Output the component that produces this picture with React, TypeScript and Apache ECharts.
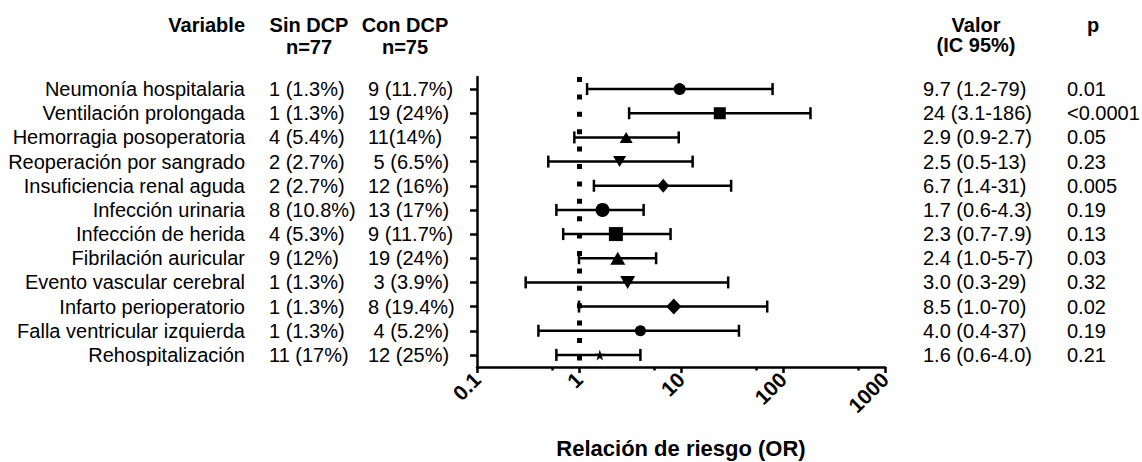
import React, { useEffect, useRef } from "react";
import * as echarts from "echarts";

// ---------- data ----------
const variables = [
  "Neumonía hospitalaria",
  "Ventilación prolongada",
  "Hemorragia posoperatoria",
  "Reoperación por sangrado",
  "Insuficiencia renal aguda",
  "Infección urinaria",
  "Infección de herida",
  "Fibrilación auricular",
  "Evento vascular cerebral",
  "Infarto perioperatorio",
  "Falla ventricular izquierda",
  "Rehospitalización",
];
const sinDCP = [
  "1 (1.3%)", "1 (1.3%)", "4 (5.4%)", "2 (2.7%)", "2 (2.7%)", "8 (10.8%)",
  "4 (5.3%)", "9 (12%)", "1 (1.3%)", "1 (1.3%)", "1 (1.3%)", "11 (17%)",
];
const conDCP = [
  "9 (11.7%)", "19 (24%)", "11(14%)", "\u00A05 (6.5%)", "12 (16%)", "13 (17%)",
  "9 (11.7%)", "19 (24%)", "\u00A03 (3.9%)", "8 (19.4%)", "\u00A04 (5.2%)", "12 (25%)",
];
const orValues = [9.7, 24, 2.9, 2.5, 6.7, 1.7, 2.3, 2.4, 3.0, 8.5, 4.0, 1.6];
const ciLow = [1.2, 3.1, 0.9, 0.5, 1.4, 0.6, 0.7, 1.0, 0.3, 1.0, 0.4, 0.6];
const ciHigh = [79, 186, 9.5, 13, 31, 4.3, 7.9, 5.7, 29, 70, 37, 4.0];
const valorIC = [
  "9.7 (1.2-79)", "24 (3.1-186)", "2.9 (0.9-2.7)", "2.5 (0.5-13)", "6.7 (1.4-31)",
  "1.7 (0.6-4.3)", "2.3 (0.7-7.9)", "2.4 (1.0-5-7)", "3.0 (0.3-29)", "8.5 (1.0-70)",
  "4.0 (0.4-37)", "1.6 (0.6-4.0)",
];
const pValues = [
  "0.01", "<0.0001", "0.05", "0.23", "0.005", "0.19",
  "0.13", "0.03", "0.32", "0.02", "0.19", "0.21",
];
const xMin = 0.1;
const xMax = 1000;
const minorTickValues = [0.55, 5.5, 55, 550];
const referenceOR = 1;

// ---------- styles ----------
const STAR = "path://M50,0 L61,35 L98,35 L68,57 L79,91 L50,70 L21,91 L32,57 L2,35 L39,35 Z";
const markerSymbols = [
  "circle", "rect", "triangle", "triangle", "diamond", "circle",
  "rect", "triangle", "triangle", "diamond", "circle", STAR,
];
const markerRotations = [0, 0, 0, 180, 0, 0, 0, 0, 180, 0, 0, 0];
const markerSizes: any[] = [
  12, 12, [13, 11], [13, 11], [12, 14], 14,
  14, [15, 13], [15, 13], [15, 16], 11, 11,
];

const FONT = '"Liberation Sans", Arial, Helvetica, sans-serif';
const BLACK = "#000";

function colAxis(position: string, texts: string[], margin: number, align: string) {
  return {
    type: "category",
    data: variables,
    inverse: true,
    position,
    offset: 0,
    axisLine: { show: false, onZero: false },
    axisTick: { show: false },
    splitLine: { show: false },
    axisLabel: {
      interval: 0,
      hideOverlap: false,
      margin,
      align,
      fontSize: 20,
      fontFamily: FONT,
      color: BLACK,
      formatter: (_v: string, i: number) => texts[i],
    },
  };
}

export default function App() {
  const ref = useRef<HTMLDivElement>(null);
  useEffect(() => {
    document.body.style.margin = "0";
    const chart = echarts.init(ref.current!, null, { renderer: "svg" });
    const headerStyle = (text: string, align = "center") => ({
      text,
      fontSize: 20,
      fontWeight: "bold",
      fontFamily: FONT,
      fill: BLACK,
      align,
      verticalAlign: "middle",
    });
    const option: any = {
      animation: false,
      backgroundColor: "#fff",
      grid: { left: 477, right: 257, top: 77, bottom: 95, containLabel: false, outerBoundsMode: "none" },
      xAxis: {
        type: "log",
        logBase: 10,
        min: xMin,
        max: xMax,
        splitNumber: 4,
        axisLine: { show: true, onZero: false, lineStyle: { color: BLACK, width: 2.5 } },
        axisTick: { show: true, length: 6, lineStyle: { color: BLACK, width: 2.5 } },
        splitLine: { show: false },
        axisLabel: {
          rotate: 45,
          margin: 9,
          fontSize: 21,
          fontWeight: "bold",
          fontFamily: FONT,
          color: BLACK,
          formatter: (v: number) => String(v),
        },
        name: "Relación de riesgo (OR)",
        nameLocation: "middle",
        nameGap: 70,
        nameTextStyle: { fontSize: 22, fontWeight: "bold", fontFamily: FONT, color: BLACK },
      },
      yAxis: [
        {
          type: "category",
          data: variables,
          inverse: true,
          position: "left",
          axisLine: { show: true, onZero: false, lineStyle: { color: BLACK, width: 2.5 } },
          axisTick: { show: true, alignWithLabel: true, length: 7, lineStyle: { color: BLACK, width: 2.5 } },
          splitLine: { show: false },
          axisLabel: {
            interval: 0,
            hideOverlap: false,
            margin: 232,
            fontSize: 20,
            fontFamily: FONT,
            color: BLACK,
          },
        },
        colAxis("left", sinDCP, 208, "left"),
        colAxis("left", conDCP, 109, "left"),
        colAxis("right", valorIC, 38, "left"),
        colAxis("right", pValues, 182, "left"),
      ],
      graphic: [
        { type: "text", x: 245, y: 25, style: headerStyle("Variable", "right") },
        { type: "text", x: 309, y: 25, style: headerStyle("Sin DCP") },
        { type: "text", x: 309, y: 47, style: headerStyle("n=77") },
        { type: "text", x: 405, y: 25, style: headerStyle("Con DCP") },
        { type: "text", x: 405, y: 47, style: headerStyle("n=75") },
        { type: "text", x: 976, y: 25, style: headerStyle("Valor") },
        { type: "text", x: 976, y: 45, style: headerStyle("(IC 95%)") },
        { type: "text", x: 1093, y: 25, style: headerStyle("p") },
      ],
      series: [
        {
          type: "custom",
          name: "IC",
          z: 3,
          encode: { x: [1, 2], y: 0 },
          data: variables.map((_, i) => [i, ciLow[i], ciHigh[i]]),
          renderItem: (_params: any, api: any) => {
            const row = api.value(0);
            const lo = api.coord([api.value(1), row]);
            const hi = api.coord([api.value(2), row]);
            const h = 6;
            const style = { stroke: BLACK, lineWidth: 2.5 };
            return {
              type: "group",
              children: [
                { type: "line", shape: { x1: lo[0], y1: lo[1], x2: hi[0], y2: hi[1] }, style },
                { type: "line", shape: { x1: lo[0], y1: lo[1] - h, x2: lo[0], y2: lo[1] + h }, style },
                { type: "line", shape: { x1: hi[0], y1: hi[1] - h, x2: hi[0], y2: hi[1] + h }, style },
              ],
            };
          },
        },
        {
          type: "custom",
          name: "minorTicks",
          z: 3,
          clip: false,
          encode: { x: 0, y: 1 },
          data: minorTickValues.map((v) => [v, 0]),
          renderItem: (params: any, api: any) => {
            const p = api.coord([api.value(0), 0]);
            const cs = params.coordSys;
            const bottom = cs.y + cs.height;
            return {
              type: "line",
              shape: { x1: p[0], y1: bottom, x2: p[0], y2: bottom + 3.5 },
              style: { stroke: BLACK, lineWidth: 2.5 },
            };
          },
        },
        {
          type: "scatter",
          name: "OR",
          z: 4,
          data: orValues.map((v, i) => ({
            value: [v, i],
            symbol: markerSymbols[i],
            symbolSize: markerSizes[i],
            symbolRotate: markerRotations[i],
          })),
          itemStyle: { color: BLACK, opacity: 1 },
          markLine: {
            silent: true,
            symbol: "none",
            label: { show: false },
            lineStyle: { color: BLACK, width: 5, type: [5, 12.4], cap: "butt" },
            data: [{ xAxis: referenceOR }],
          },
        },
      ],
    };
    chart.setOption(option);
    return () => chart.dispose();
  }, []);
  return (
    <div
      ref={ref}
      style={{ width: 1142, height: 462, position: "absolute", left: 0, top: 0, background: "#fff" }}
    />
  );
}
